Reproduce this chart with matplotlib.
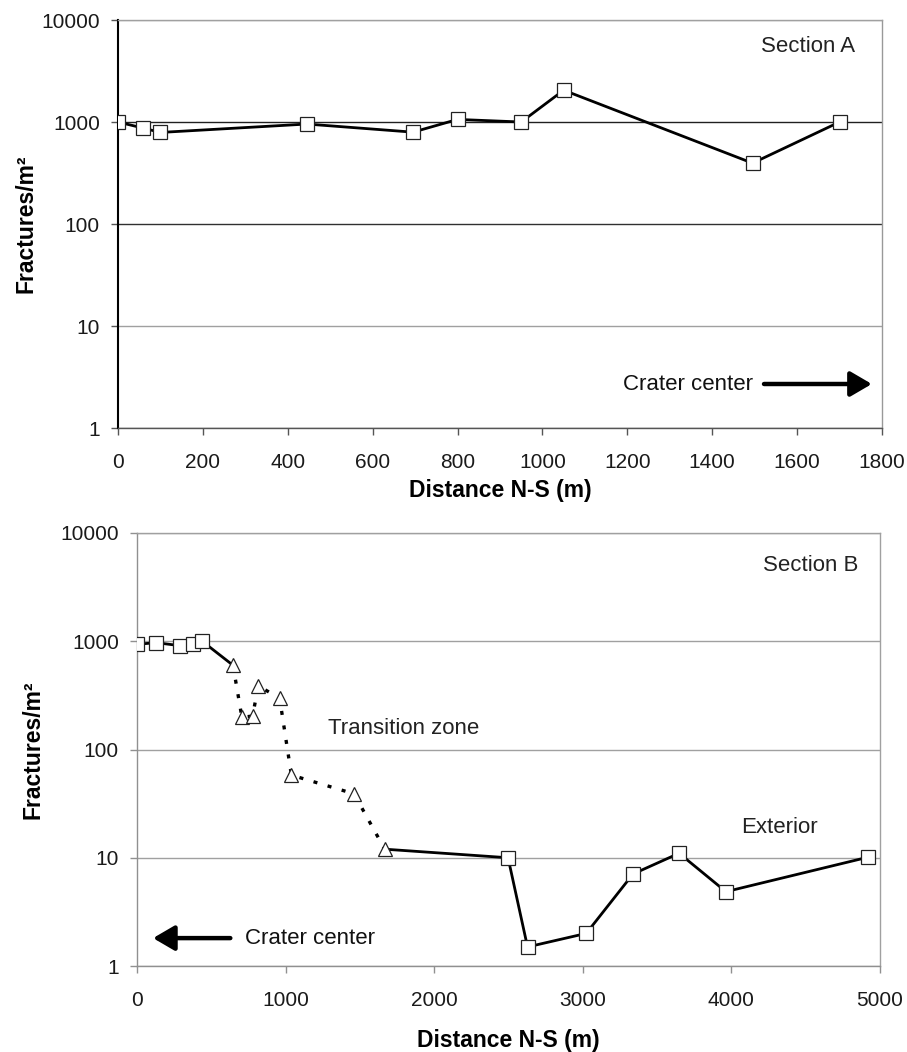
import matplotlib
matplotlib.use("Agg")
import matplotlib.pyplot as plt
from matplotlib.ticker import FixedLocator, NullLocator

plt.rcParams['font.family'] = ['Liberation Sans', 'DejaVu Sans']

# ---------------- data ----------------
# Section A
a_x = [0, 60, 100, 445, 695, 800, 950, 1050, 1495, 1700]
a_y = [1000, 870, 790, 955, 795, 1060, 1000, 2050, 395, 1000]

# Section B: interior squares, transition triangles, exterior squares
b_in_x = [0, 130, 291, 380, 437]
b_in_y = [938, 970, 910, 944, 1005]
b_tr_x = [646, 706, 778, 816, 960, 1039, 1460, 1667]
b_tr_y = [600, 198, 204, 388, 297, 58, 39, 12]
b_ex_x = [2497, 2628, 3023, 3338, 3648, 3963, 4917]
b_ex_y = [10, 1.5, 2.0, 7.08, 11.0, 4.86, 10.1]

y_ticks = [1, 10, 100, 1000, 10000]
y_ticklabels = ['1', '10', '100', '1000', '10000']
a_xticks = list(range(0, 1801, 200))
b_xticks = list(range(0, 5001, 1000))

W, H = 907, 1052
fig = plt.figure(figsize=(W / 100, H / 100), dpi=100)


def frac(l, t, r, b):
    return [l / W, 1 - b / H, (r - l) / W, (b - t) / H]


LW = 2.0
MS = 9.5
sq = dict(marker='s', markersize=MS, markerfacecolor='white',
          markeredgecolor='#222222', markeredgewidth=0.9)
tri = dict(marker='^', markersize=MS + 0.5, markerfacecolor='white',
           markeredgecolor='#222222', markeredgewidth=0.9)

TXT = 16


def style_axis(ax, xticks, xmax, grid_colors, spine_colors, tick_color):
    ax.set_yscale('log')
    ax.set_ylim(1, 10000)
    ax.set_xlim(0, xmax)
    ax.yaxis.set_major_locator(FixedLocator(y_ticks))
    ax.set_yticklabels(y_ticklabels)
    ax.yaxis.set_minor_locator(NullLocator())
    ax.set_xticks(xticks)
    ax.set_xticklabels([str(v) for v in xticks])
    ax.tick_params(axis='both', which='major', direction='out', length=5,
                   width=1, color=tick_color, labelsize=15, labelcolor='#1a1a1a')
    ax.tick_params(axis='x', pad=13)
    ax.tick_params(axis='y', pad=8)
    ax.grid(True, axis='y', which='major', linewidth=1.0)
    for gl, c in zip(ax.yaxis.get_gridlines(), grid_colors):
        gl.set_color(c)
    for k, c in spine_colors.items():
        ax.spines[k].set_color(c)
        ax.spines[k].set_linewidth(1.0)
    ax.set_axisbelow(True)


def crater_arrow(ax, head, tail):
    ax.annotate('', xy=head, xytext=tail,
                arrowprops=dict(arrowstyle='-|>,head_length=0.65,head_width=0.38',
                                lw=3.2, color='black', mutation_scale=20,
                                shrinkA=0, shrinkB=0))


# ---------------- Section A ----------------
axA = fig.add_axes(frac(118, 20, 882, 428))
style_axis(axA, a_xticks, 1800,
           ['#555555', '#a0a0a0', '#303030', '#202020', '#a0a0a0'],
           {'left': '#000000', 'bottom': '#555555', 'right': '#999999', 'top': '#a0a0a0'},
           '#555555')
axA.spines['left'].set_linewidth(1.5)
axA.plot(a_x, a_y, color='black', linewidth=LW, zorder=3, **sq)
axA.set_ylabel('Fractures/m²', fontsize=16.5, fontweight='bold')
axA.yaxis.set_label_coords(-0.1204, 0.5)
axA.yaxis.label.set_va('center')
axA.set_xlabel('Distance N-S (m)', fontsize=16.5, fontweight='bold')
axA.xaxis.set_label_coords(0.5, -0.152)
axA.xaxis.label.set_va('center')
axA.text(1626, 5560, 'Section A', fontsize=TXT, ha='center', va='center', color='#222222')
axA.text(1343, 2.64, 'Crater center', fontsize=TXT, ha='center', va='center', color='#111111')
crater_arrow(axA, (1776, 2.70), (1522, 2.70))

# ---------------- Section B ----------------
axB = fig.add_axes(frac(137, 533, 880, 966))
style_axis(axB, b_xticks, 5000,
           ['#a0a0a0'] * 5,
           {'left': '#909090', 'bottom': '#909090', 'right': '#a0a0a0', 'top': '#a0a0a0'},
           '#909090')

# solid: interior squares -> first triangle
axB.plot(b_in_x + b_tr_x[:1], b_in_y + b_tr_y[:1], color='black',
         linewidth=LW, zorder=2)
# dotted transition
axB.plot(b_tr_x, b_tr_y, color='black', linewidth=2.4,
         linestyle=(0, (1.2, 3.2)), zorder=2)
# solid: last triangle -> exterior squares
axB.plot(b_tr_x[-1:] + b_ex_x, b_tr_y[-1:] + b_ex_y, color='black',
         linewidth=LW, zorder=2)
axB.plot(b_in_x, b_in_y, linestyle='none', zorder=3, **sq)
axB.plot(b_ex_x, b_ex_y, linestyle='none', zorder=3, **sq)
axB.plot(b_tr_x, b_tr_y, linestyle='none', zorder=3, **tri)

axB.set_ylabel('Fractures/m²', fontsize=16.5, fontweight='bold')
axB.yaxis.set_label_coords(-0.14, 0.5)
axB.yaxis.label.set_va('center')
axB.set_xlabel('Distance N-S (m)', fontsize=16.5, fontweight='bold')
axB.xaxis.set_label_coords(0.5, -0.171)
axB.xaxis.label.set_va('center')
axB.text(4532, 5040, 'Section B', fontsize=TXT, ha='center', va='center', color='#222222')
axB.text(1795, 156, 'Transition zone', fontsize=TXT, ha='center', va='center', color='#222222')
axB.text(4325, 19, 'Exterior', fontsize=TXT, ha='center', va='center', color='#222222')
axB.text(1167, 1.78, 'Crater center', fontsize=TXT, ha='center', va='center', color='#111111')
crater_arrow(axB, (108, 1.81), (628, 1.81))

fig.savefig('out.png', dpi=100, facecolor='white')
